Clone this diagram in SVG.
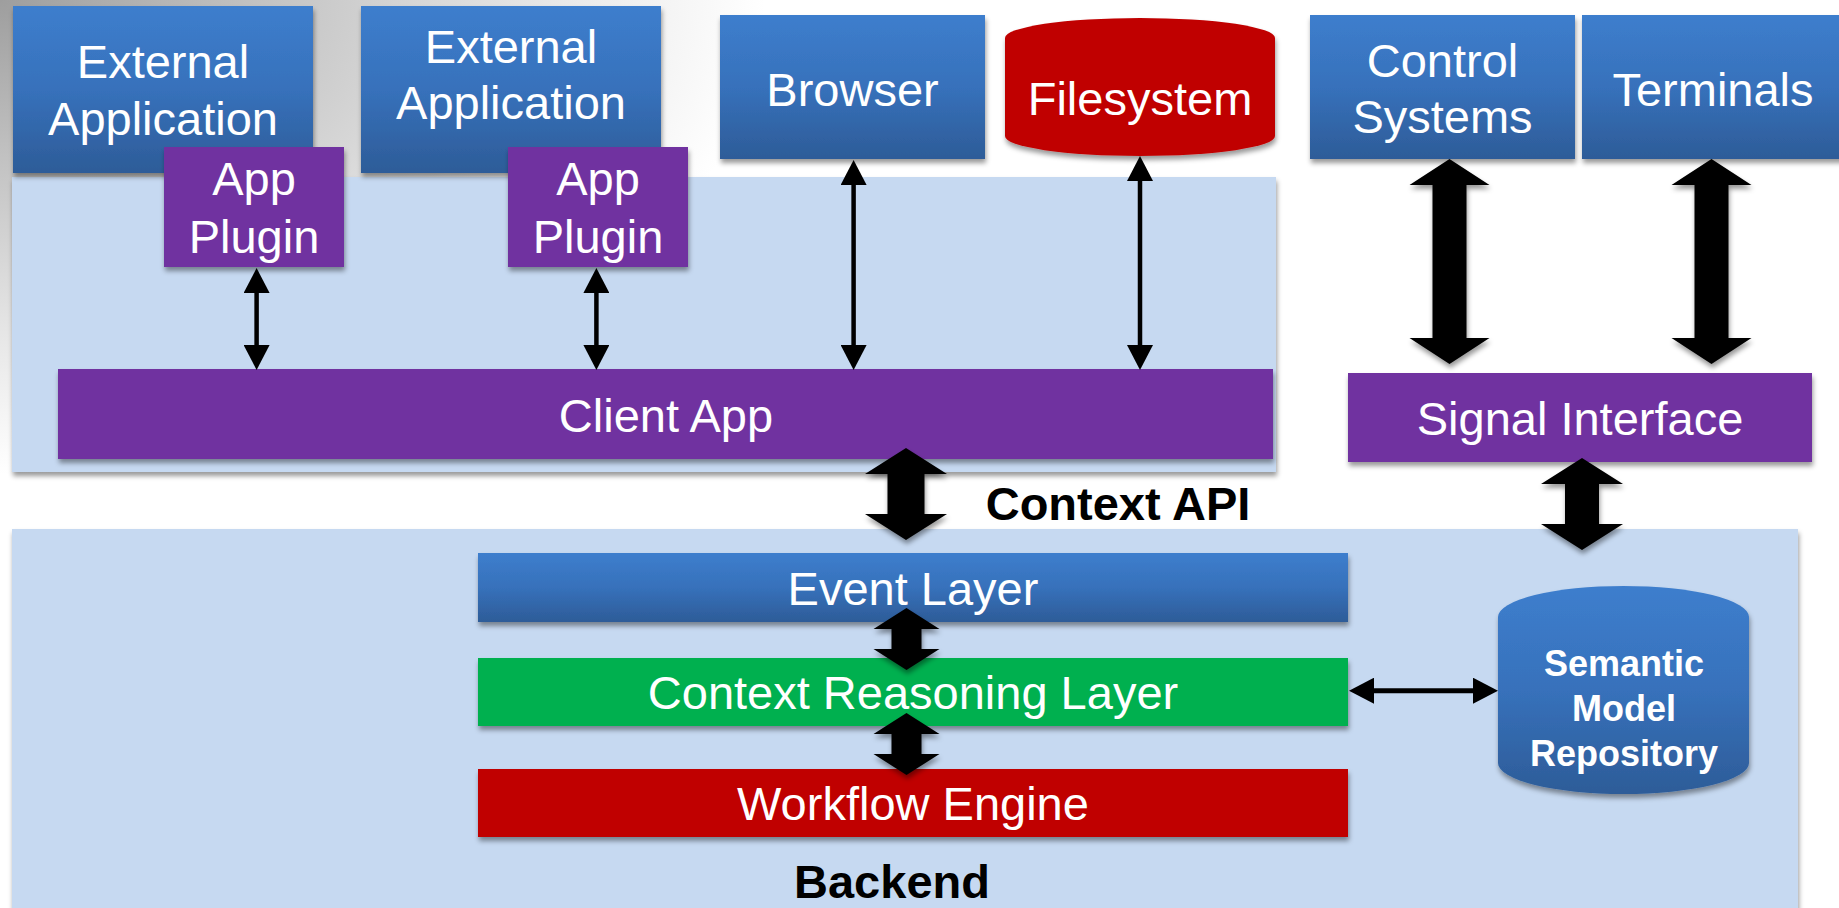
<svg xmlns="http://www.w3.org/2000/svg" width="1839" height="908" viewBox="0 0 1839 908">
<defs>
<radialGradient id="bg" cx="0" cy="0" r="850" gradientUnits="userSpaceOnUse" gradientTransform="scale(1,0.62)">
<stop offset="0" stop-color="#9e9e9e"/>
<stop offset="0.3" stop-color="#c2c2c2"/>
<stop offset="0.65" stop-color="#e8e8e8"/>
<stop offset="0.9" stop-color="#ffffff"/>
</radialGradient>
<linearGradient id="blue" x1="0" y1="0" x2="0" y2="1">
<stop offset="0" stop-color="#3d7ecd"/>
<stop offset="0.5" stop-color="#3771bb"/>
<stop offset="1" stop-color="#2d5c98"/>
</linearGradient>
<filter id="sh" x="-10%" y="-10%" width="120%" height="130%">
<feDropShadow dx="1" dy="4" stdDeviation="2.5" flood-color="#000" flood-opacity="0.4"/>
</filter>
<marker id="ah" viewBox="0 0 25 26" markerWidth="25" markerHeight="26" refX="15" refY="13" markerUnits="userSpaceOnUse" orient="auto-start-reverse">
<path d="M0,0 L25,13 L0,26 z" fill="#000"/>
</marker>
<style>
.panel{fill:#c6d9f1;filter:url(#sh)}
.bx{filter:url(#sh)}
.blue{fill:url(#blue)}
.purple{fill:#7030a0}
.red{fill:#c00000}
.green{fill:#00b050}
.t{font-family:"Liberation Sans",Arial,sans-serif;font-size:47px;fill:#fff;text-anchor:middle}
.b{font-family:"Liberation Sans",Arial,sans-serif;font-weight:bold;font-size:47px;fill:#000;text-anchor:middle}
.s{font-family:"Liberation Sans",Arial,sans-serif;font-weight:bold;font-size:36px;fill:#fff;text-anchor:middle}
.thin{stroke:#000;stroke-width:4.5;fill:none;marker-start:url(#ah);marker-end:url(#ah)}
.blk{fill:#000;filter:url(#sh)}
</style>
</defs>
<rect width="1839" height="908" fill="url(#bg)"/>

<g id="client-panel"><rect class="panel" x="12" y="177" width="1264" height="295"/></g>
<g id="backend-panel"><rect class="panel" x="12" y="529" width="1786" height="390"/>
<text class="b" x="892" y="898">Backend</text></g>

<g id="ext-app-1"><rect class="bx blue" x="13" y="6" width="300" height="167"/>
<text class="t" x="163" y="78">External</text><text class="t" x="163" y="135">Application</text></g>
<g id="ext-app-2"><rect class="bx blue" x="361" y="6" width="300" height="167"/>
<text class="t" x="511" y="63">External</text><text class="t" x="511" y="119">Application</text></g>
<g id="app-plugin-1"><rect class="bx purple" x="164" y="147" width="180" height="120"/>
<text class="t" x="254" y="195">App</text><text class="t" x="254" y="253">Plugin</text></g>
<g id="app-plugin-2"><rect class="bx purple" x="508" y="147" width="180" height="120"/>
<text class="t" x="598" y="195">App</text><text class="t" x="598" y="253">Plugin</text></g>
<g id="browser"><rect class="bx blue" x="720" y="15" width="265" height="144"/>
<text class="t" x="852.5" y="106">Browser</text></g>
<g id="filesystem"><path class="bx red" d="M1005,38 A135,20 0 0 1 1275,38 V136 A135,20 0 0 1 1005,136 Z"/>
<text class="t" x="1140" y="115">Filesystem</text></g>
<g id="control-systems"><rect class="bx blue" x="1310" y="15" width="265" height="144"/>
<text class="t" x="1442.5" y="77">Control</text><text class="t" x="1442.5" y="133">Systems</text></g>
<g id="terminals"><rect class="bx blue" x="1582" y="15" width="262" height="144"/>
<text class="t" x="1713" y="106">Terminals</text></g>
<g id="client-app"><rect class="bx purple" x="58" y="369" width="1215" height="90"/>
<text class="t" x="666" y="432">Client App</text></g>
<g id="signal-interface"><rect class="bx purple" x="1348" y="373" width="464" height="89"/>
<text class="t" x="1580" y="435">Signal Interface</text></g>
<g id="event-layer"><rect class="bx blue" x="478" y="553" width="870" height="69"/>
<text class="t" x="913" y="605">Event Layer</text></g>
<g id="context-reasoning-layer"><rect class="bx green" x="478" y="658" width="870" height="68"/>
<text class="t" x="913" y="709">Context Reasoning Layer</text></g>
<g id="workflow-engine"><rect class="bx red" x="478" y="769" width="870" height="68"/>
<text class="t" x="913" y="820">Workflow Engine</text></g>
<g id="semantic-model-repository"><path class="bx blue" d="M1498,617 A125.5,31 0 0 1 1749,617 V763 A125.5,31 0 0 1 1498,763 Z"/>
<text class="s" x="1624" y="676">Semantic</text><text class="s" x="1624" y="721">Model</text><text class="s" x="1624" y="766">Repository</text></g>

<g id="connectors">
<line class="thin" x1="256.6" y1="278" x2="256.6" y2="360"/>
<line class="thin" x1="596.4" y1="278" x2="596.4" y2="360"/>
<line class="thin" x1="853.6" y1="170" x2="853.6" y2="360"/>
<line class="thin" x1="1140" y1="166" x2="1140" y2="360"/>
<line class="thin" x1="1359" y1="690.7" x2="1488" y2="690.7" style="stroke-width:5"/>
<path class="blk" d="M1449.5,159 L1489.5,185 L1466.5,185 L1466.5,338 L1489.5,338 L1449.5,364 L1409.5,338 L1432.5,338 L1432.5,185 L1409.5,185 Z"/>
<path class="blk" d="M1711.5,159 L1751.5,185 L1728.5,185 L1728.5,338 L1751.5,338 L1711.5,364 L1671.5,338 L1694.5,338 L1694.5,185 L1671.5,185 Z"/>
<path class="blk" d="M906,448 L947,474 L924.5,474 L924.5,514 L947,514 L906,540 L865,514 L887.5,514 L887.5,474 L865,474 Z"/>
<path class="blk" d="M1582,458 L1623,484 L1599,484 L1599,524 L1623,524 L1582,550 L1541,524 L1565,524 L1565,484 L1541,484 Z"/>
<path class="blk" d="M906.5,608 L939.5,629 L921.5,629 L921.5,649 L939.5,649 L906.5,670 L873.5,649 L891.5,649 L891.5,629 L873.5,629 Z"/>
<path class="blk" d="M906.5,713 L939.5,734 L921.5,734 L921.5,754 L939.5,754 L906.5,775 L873.5,754 L891.5,754 L891.5,734 L873.5,734 Z"/>
</g>
<text class="b" x="1118" y="520">Context API</text>
</svg>
